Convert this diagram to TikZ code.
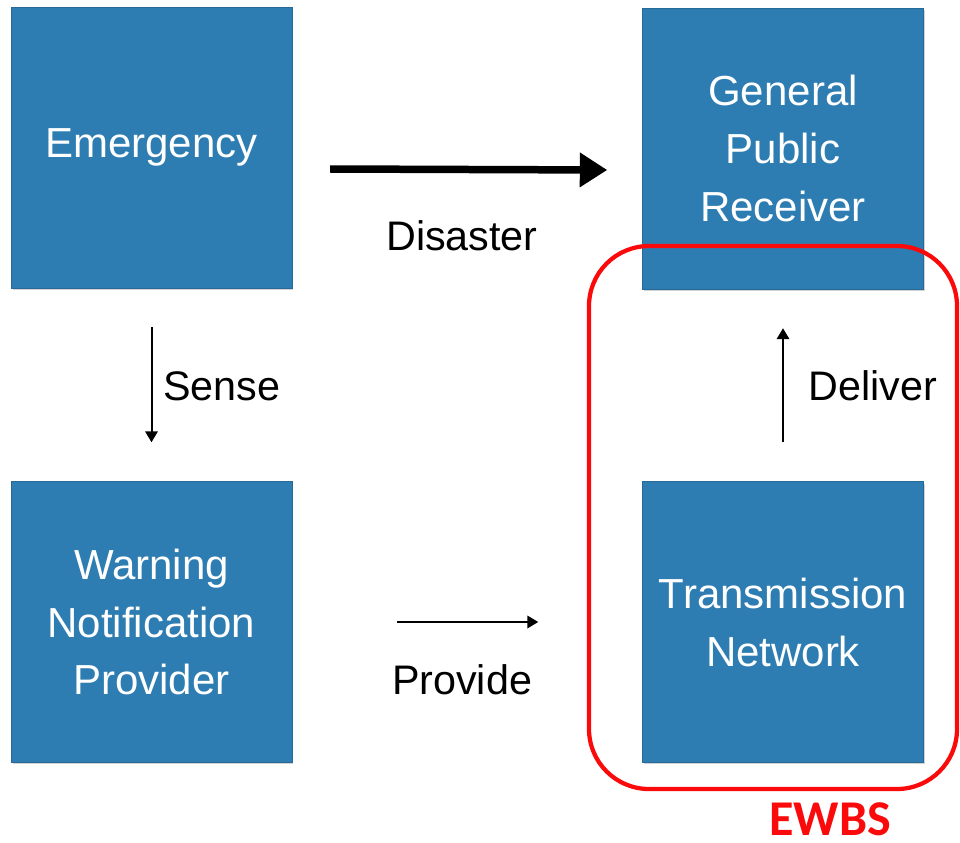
\documentclass[tikz,border=0pt]{standalone}
\usepackage{fontspec}
\setmainfont{Liberation Sans}
\newfontfamily\ewbsfont{Carlito}
\usetikzlibrary{arrows.meta,shadows}
\definecolor{boxblue}{RGB}{46,125,178}
\definecolor{framered}{RGB}{250,10,10}
\tikzset{
  block/.style={fill=boxblue, draw=boxblue!85!black, line width=0.3pt,
    minimum width=5.62cm, minimum height=5.62cm, inner sep=0pt,
    text=white, align=center,
    font=\fontsize{23.9}{33}\selectfont,
    drop shadow={shadow xshift=0.03cm, shadow yshift=-0.04cm, opacity=0.35}},
  flow/.style={draw=black, line width=0.04cm,
    -{Triangle[length=0.22cm, width=0.25cm]}},
  bigflow/.style={draw=black, line width=0.15cm,
    -{Triangle[length=0.55cm, width=0.66cm]}},
  lbl/.style={font=\fontsize{23.5}{28}\selectfont, text=black, inner sep=0pt},
  frame/.style={draw=framered, line width=0.085cm, rounded corners=1.2cm},
}
\begin{document}
\begin{tikzpicture}[x=0.02cm, y=-0.02cm]
  \useasboundingbox (0,0) rectangle (960,842);

  % the four stages
  \node[block] (em) at (151.5,147.5) {Emergency};
  \node[block] (gp) at (783,148.5) {General\\Public\\Receiver};
  \node[block] (wn) at (151.5,622) {Warning\\Notification\\Provider};
  \node[block] (tn) at (783,622) {Transmission\\Network};

  % links between the stages
  \draw[bigflow] ([xshift=0.76cm, yshift=-0.43cm]em.east)
              -- ([xshift=-0.7cm, yshift=-0.43cm]gp.west);
  \draw[flow, shorten <=0.78cm, shorten >=0.78cm] (em.south) -- (wn.north);
  \draw[flow, shorten <=2.1cm, shorten >=2.08cm] (wn.east) -- (tn.west);
  \draw[flow, shorten <=0.78cm, shorten >=0.78cm] (tn.north) -- (gp.south);

  % link labels
  \node[lbl] (ldis) at (462,236) {Disaster};
  \node[lbl, anchor=west] (lsen) at (163,386) {Sense};
  \node[lbl] (lpro) at (462,680) {Provide};
  \node[lbl, anchor=west] (ldel) at (808,386) {Deliver};

  % EWBS scope
  \draw[frame] (589,246) rectangle (957,789);
  \node[text=framered, font=\ewbsfont\bfseries\fontsize{28.5}{32}\selectfont, inner sep=0pt]
    (ewbs) at (830,819) {EWBS};
\end{tikzpicture}
\end{document}
